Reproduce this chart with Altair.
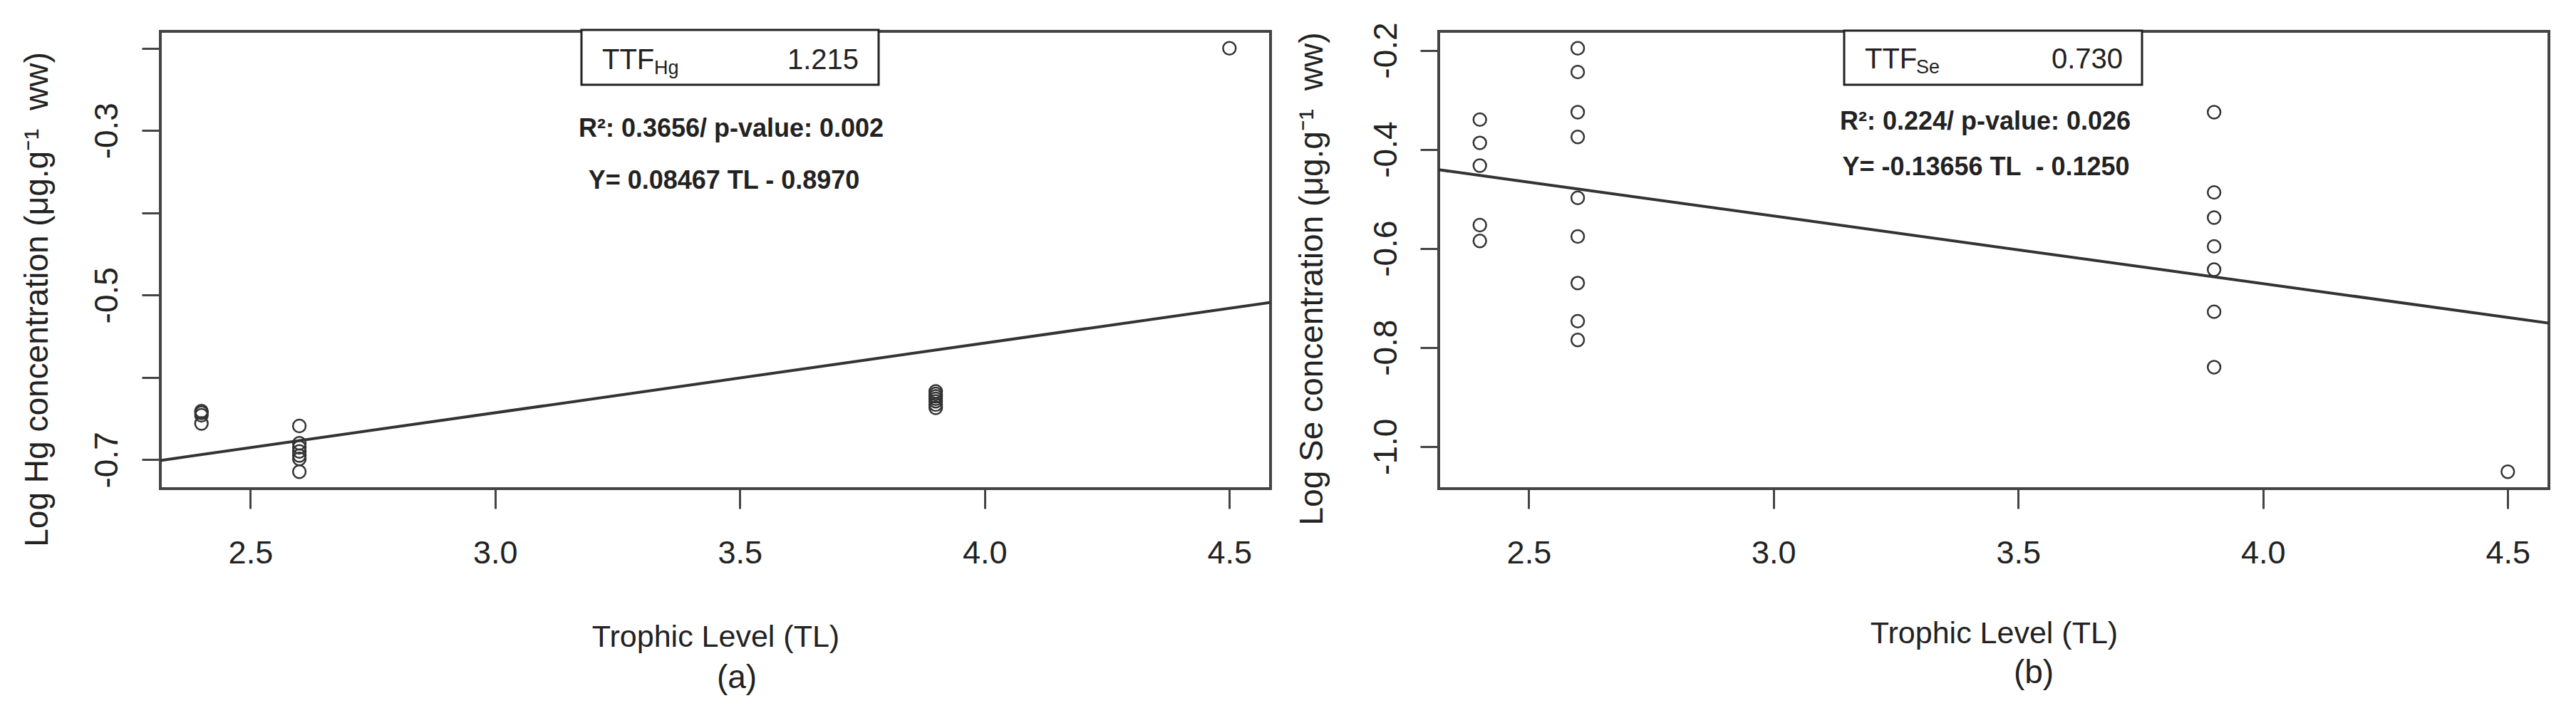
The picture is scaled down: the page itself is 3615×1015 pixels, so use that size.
import altair as alt
import pandas as pd

# ---------------- data ----------------
X_TICKS = [2.5, 3.0, 3.5, 4.0, 4.5]

HG_TL = [2.4, 2.4, 2.4, 2.4,
         2.6, 2.6, 2.6, 2.6, 2.6, 2.6, 2.6,
         3.9, 3.9, 3.9, 3.9, 3.9, 3.9, 3.9,
         4.5]
HG_LOG = [-0.641, -0.643, -0.646, -0.656,
          -0.659, -0.680, -0.685, -0.690, -0.695, -0.699, -0.7146,
          -0.617, -0.620, -0.623, -0.626, -0.629, -0.633, -0.637,
          -0.2001]
HG_Y_TICKS = [-0.7, -0.6, -0.5, -0.4, -0.3, -0.2]
HG_SLOPE = 0.08467
HG_INTERCEPT = -0.8970
HG_TTF = "1.215"
HG_STATS = "R²: 0.3656/ p-value: 0.002"
HG_EQ = "Y= 0.08467 TL - 0.8970"
HG_YTITLE = "Log Hg concentration (μg.g⁻¹\u00a0 ww)"

SE_TL = [2.4, 2.4, 2.4, 2.4, 2.4,
         2.6, 2.6, 2.6, 2.6, 2.6, 2.6, 2.6, 2.6, 2.6,
         3.9, 3.9, 3.9, 3.9, 3.9, 3.9, 3.9,
         4.5]
SE_LOG = [-0.340, -0.387, -0.433, -0.553, -0.585,
          -0.196, -0.244, -0.325, -0.375, -0.498, -0.576, -0.670, -0.747, -0.785,
          -0.325, -0.487, -0.538, -0.596, -0.643, -0.728, -0.840,
          -1.051]
SE_Y_TICKS = [-1.0, -0.8, -0.6, -0.4, -0.2]
SE_SLOPE = -0.13656
SE_INTERCEPT = -0.1250
SE_TTF = "0.730"
SE_STATS = "R²: 0.224/ p-value: 0.026"
SE_EQ = "Y= -0.13656 TL\u00a0 - 0.1250"
SE_YTITLE = "Log Se concentration (μg.g⁻¹\u00a0 ww)"

XTITLE = "Trophic Level (TL)"

# ---------------- styling ----------------
FONT = "Liberation Sans"
INK = "#222222"
FRAME = "#444444"
W, H = 1558, 642


def r_range(v):
    lo, hi = min(v), max(v)
    pad = 0.04 * (hi - lo)
    return [lo - pad, hi + pad]


MINUS_FIX = "replace(format(datum.value, '.1f'), '\u2212', '-')"


def panel(tl, logv, yticks, every_other, slope, intercept, ytitle, sub,
          ttf, stats, eq, tag, lay):
    xdom = r_range(tl)
    ydom = r_range(logv)
    pts = pd.DataFrame({"TL": tl, "v": logv})
    fit = pd.DataFrame({"TL": xdom, "v": [slope * x + intercept for x in xdom]})
    one = pd.DataFrame({"k": [0]})

    xs = alt.Scale(domain=xdom, nice=False, zero=False)
    ys = alt.Scale(domain=ydom, nice=False, zero=False)

    label_expr = (f"round(datum.value*10) % 2 != 0 ? {MINUS_FIX} : ''"
                  if every_other else MINUS_FIX)

    xaxis = alt.Axis(values=X_TICKS, format=".1f", title=XTITLE, domain=False,
                     grid=False, tickSize=28, tickWidth=3, tickColor=FRAME,
                     labelFont=FONT, labelFontSize=45, labelColor=INK,
                     labelBaseline="alphabetic", labelPadding=76,
                     labelFlush=False, labelOverlap=False,
                     titleFont=FONT, titleFontSize=43, titleFontWeight="normal",
                     titleColor=INK, titleY=lay["xty"], titleBaseline="alphabetic")
    yaxis = alt.Axis(values=yticks, labelExpr=label_expr, title=ytitle,
                     domain=False, grid=False, tickSize=26, tickWidth=3,
                     tickColor=FRAME, labelFont=FONT, labelFontSize=46,
                     labelColor=INK, labelAngle=270, labelAlign="center",
                     labelBaseline="alphabetic", labelPadding=lay["ylp"],
                     labelOverlap=False, labelFlush=False,
                     titleFont=FONT, titleFontSize=46, titleFontWeight="normal",
                     titleColor=INK, titleAngle=270, titleX=lay["ytx"],
                     titleY=lay["yty"], titleAlign="center",
                     titleBaseline="alphabetic")

    enc = dict(x=alt.X("TL:Q", scale=xs, axis=xaxis),
               y=alt.Y("v:Q", scale=ys, axis=yaxis))

    box = alt.Chart(one).mark_rect(fill="white", stroke=INK, strokeWidth=3).encode(
        x=alt.value(lay["bx0"]), x2=alt.value(lay["bx1"]),
        y=alt.value(lay["by0"]), y2=alt.value(lay["by1"]))
    reg = alt.Chart(fit).mark_line(color="#333333", strokeWidth=4).encode(**enc)
    dots = alt.Chart(pts).mark_point(shape="circle", filled=False, size=320,
                                     strokeWidth=2.5, color="#333333",
                                     opacity=1).encode(**enc)

    def txt(s, x, y, size, align, weight="normal"):
        return alt.Chart(one).mark_text(
            text=s, font=FONT, fontSize=size, fontWeight=weight, align=align,
            baseline="alphabetic", color=INK).encode(x=alt.value(x), y=alt.value(y))

    texts = [
        txt("TTF", lay["ttf_x"], lay["ttf_y"], 40, "left"),
        txt(sub, lay["sub_x"], lay["sub_y"], 27, "left"),
        txt(ttf, lay["val_x"], lay["ttf_y"], 40, "right"),
        txt(stats, lay["st_x"], lay["st_y"], 36, "center", "bold"),
        txt(eq, lay["eq_x"], lay["eq_y"], 36, "center", "bold"),
        txt(tag, lay["tag_x"], lay["tag_y"], 46, "center"),
    ]
    return alt.layer(box, reg, dots, *texts).properties(width=W, height=H)


LAY_A = dict(xty=221, ylp=35, ytx=-159, yty=376,
             bx0=591, bx1=1008, by0=-2, by1=75,
             ttf_x=620, ttf_y=53, sub_x=693, sub_y=60, val_x=980,
             st_x=801, st_y=148, eq_x=791, eq_y=221, tag_x=809, tag_y=922)
LAY_B = dict(xty=216, ylp=34, ytx=-164, yty=347,
             bx0=569, bx1=987, by0=-1, by1=75,
             ttf_x=598, ttf_y=52, sub_x=670, sub_y=59, val_x=960,
             st_x=767, st_y=138, eq_x=768, eq_y=202, tag_x=835, tag_y=915)

pa = panel(HG_TL, HG_LOG, HG_Y_TICKS, True, HG_SLOPE, HG_INTERCEPT, HG_YTITLE,
           "Hg", HG_TTF, HG_STATS, HG_EQ, "(a)", LAY_A)
pb = panel(SE_TL, SE_LOG, SE_Y_TICKS, False, SE_SLOPE, SE_INTERCEPT, SE_YTITLE,
           "Se", SE_TTF, SE_STATS, SE_EQ, "(b)", LAY_B)

chart = alt.hconcat(pa, pb, spacing=236, bounds="flush").properties(
    padding={"left": 18, "top": 20, "right": 0, "bottom": 0},
    background="white",
).configure_view(stroke=FRAME, strokeWidth=4)

chart.save("out.html", embed_options={"renderer": "svg", "actions": False})
